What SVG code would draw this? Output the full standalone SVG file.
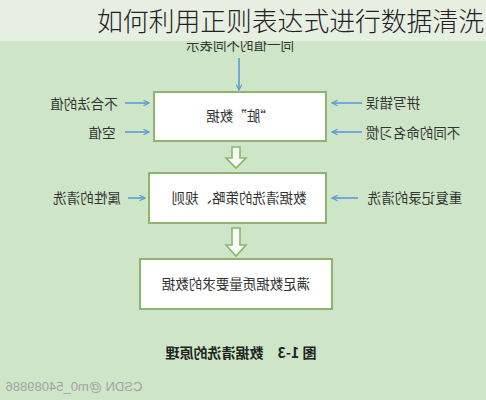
<svg xmlns="http://www.w3.org/2000/svg" width="486" height="400" viewBox="0 0 486 400">
<defs>
<style>
.lbl{font-family:"Noto Sans CJK SC","Noto Sans",sans-serif;font-size:13.5px;fill:#333333;text-anchor:middle}
.box{fill:#ffffff;stroke:#8db56f;stroke-width:2}
.arr{stroke:#5b9bd5;stroke-width:1.6;fill:none;marker-end:url(#ah)}
.blk{fill:#f7fbf3;stroke:#8db56f;stroke-width:1.6}
.cap{font-family:"Noto Sans CJK SC","Noto Sans",sans-serif;font-size:14px;font-weight:bold;fill:#222;text-anchor:middle}
</style>
<marker id="ah" viewBox="0 0 10 10" refX="9" refY="5" markerWidth="7" markerHeight="7" markerUnits="userSpaceOnUse" orient="auto">
<path d="M1,1 L9,5 L1,9" fill="none" stroke="#5b9bd5" stroke-width="1.6"/>
</marker>
</defs>
<rect x="0" y="0" width="486" height="400" fill="#cee6c7"/>
<g id="top-label"><text class="lbl" x="240" y="50" transform="matrix(-1,0,0,1,480,0)">同一值的不同表示</text></g>
<rect x="0" y="0" width="486" height="41" fill="#e6efe1"/>
<g id="title"><text x="484" y="31" font-family="Noto Sans CJK SC,Noto Sans,sans-serif" font-size="25.8" font-weight="300" fill="#222" text-anchor="end">如何利用正则表达式进行数据清洗</text></g>
<g id="connectors">
<line class="arr" x1="239" y1="58" x2="239" y2="90"/>
<line class="arr" x1="125" y1="103" x2="149" y2="103"/>
<line class="arr" x1="125" y1="132" x2="149" y2="132"/>
<line class="arr" x1="362" y1="103" x2="332" y2="103"/>
<line class="arr" x1="362" y1="132" x2="332" y2="132"/>
<line class="arr" x1="128" y1="198" x2="145" y2="198"/>
<line class="arr" x1="358" y1="198" x2="332" y2="198"/>
<path class="blk" d="M232,147 H240 V158 H246 L236,168 L226,158 H232 Z"/>
<path class="blk" d="M232,228 H240 V245 H246 L236,256 L226,245 H232 Z"/>
</g>
<g id="box1"><rect class="box" x="154" y="92" width="172" height="49"/><text class="lbl" x="240" y="121" transform="matrix(-1,0,0,1,480,0)">“脏”数据</text></g>
<g id="box2"><rect class="box" x="149" y="173" width="177" height="50"/><text class="lbl" x="239" y="203" transform="matrix(-1,0,0,1,478,0)">数据清洗的策略、规则</text></g>
<g id="box3"><rect class="box" x="140" y="259" width="192" height="50"/><text class="lbl" x="236" y="289" transform="matrix(-1,0,0,1,472,0)">满足数据质量要求的数据</text></g>
<g id="lbl-invalid"><text class="lbl" x="84" y="109" transform="matrix(-1,0,0,1,168,0)">不合法的值</text></g>
<g id="lbl-null"><text class="lbl" x="102" y="138" transform="matrix(-1,0,0,1,204,0)">空值</text></g>
<g id="lbl-spell"><text class="lbl" x="393" y="108" transform="matrix(-1,0,0,1,786,0)">拼写错误</text></g>
<g id="lbl-naming"><text class="lbl" x="413" y="138" transform="matrix(-1,0,0,1,826,0)">不同的命名习惯</text></g>
<g id="lbl-attr"><text class="lbl" x="87" y="203" transform="matrix(-1,0,0,1,174,0)">属性的清洗</text></g>
<g id="lbl-dup"><text class="lbl" x="415" y="203" transform="matrix(-1,0,0,1,830,0)">重复记录的清洗</text></g>
<g id="caption"><text class="cap" x="241" y="358" transform="matrix(-1,0,0,1,482,0)">图 1-3　数据清洗的原理</text></g>
<g id="watermark"><text x="74" y="391" font-family="Liberation Sans,Arial,sans-serif" font-size="13" fill="#a3a3a3" text-anchor="middle" transform="matrix(-1,0,0,1,148,0)">CSDN @m0_54089886</text></g>
</svg>
